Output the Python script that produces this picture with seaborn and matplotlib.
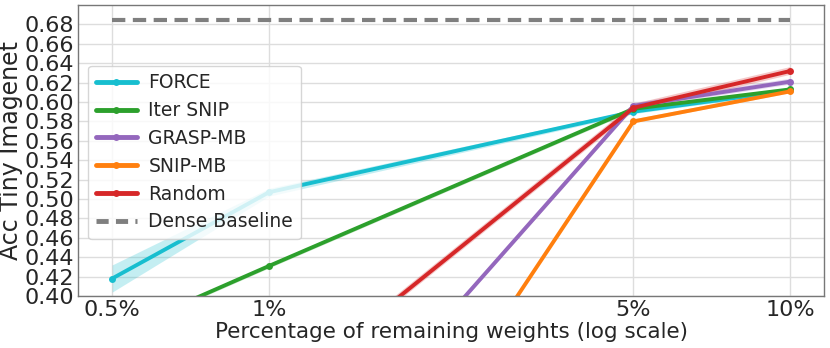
import numpy as np
import pandas as pd
import matplotlib
matplotlib.use("Agg")
import matplotlib.pyplot as plt
import seaborn as sns
from matplotlib.ticker import NullFormatter, FixedLocator, LogLocator
from matplotlib.lines import Line2D

# ---- data ----
x_pct = [0.5, 1, 5, 10]
x_labels = ["0.5%", "1%", "5%", "10%"]
methods = ["FORCE", "Iter SNIP", "GRASP-MB", "SNIP-MB", "Random"]
force = [0.418, 0.507, 0.590, 0.612]
iter_snip = [0.360, 0.431, 0.593, 0.613]
grasp_mb = [0.10, 0.171, 0.596, 0.621]
snip_mb = [0.01, 0.015, 0.580, 0.611]
random_ = [0.20, 0.291, 0.594, 0.632]
force_sd = [0.014, 0.004, 0.002, 0.002]
iter_snip_sd = [0.002, 0.002, 0.002, 0.002]
grasp_mb_sd = [0.003, 0.003, 0.003, 0.003]
snip_mb_sd = [0.002, 0.002, 0.002, 0.002]
random_sd = [0.004, 0.004, 0.004, 0.004]
dense_baseline = 0.685
y_ticks = [round(0.40 + 0.02 * i, 2) for i in range(15)]

colors = {"FORCE": "#17becf", "Iter SNIP": "#2ca02c", "GRASP-MB": "#9467bd",
          "SNIP-MB": "#ff7f0e", "Random": "#d62728"}
means = dict(zip(methods, [force, iter_snip, grasp_mb, snip_mb, random_]))
sds = dict(zip(methods, [force_sd, iter_snip_sd, grasp_mb_sd, snip_mb_sd, random_sd]))

rows = []
for m in methods:
    for xv, yv in zip(x_pct, means[m]):
        rows.append({"x": xv, "acc": yv, "method": m})
df = pd.DataFrame(rows)

sns.set_style("whitegrid")
plt.rcParams["font.family"] = ["DejaVu Sans"]

fig = plt.figure(figsize=(8.3, 3.48), dpi=100)
ax = fig.add_axes([78 / 830, 1 - 296 / 348, (824 - 78) / 830, (296 - 5) / 348])

sns.lineplot(data=df, x="x", y="acc", hue="method", hue_order=methods,
             palette=colors, marker="o", markersize=5, markeredgewidth=0,
             linewidth=2.8, errorbar=None, ax=ax, legend=False)
for m in methods:
    mu = np.array(means[m]); sd = np.array(sds[m])
    ax.fill_between(x_pct, mu - sd, mu + sd, color=colors[m], alpha=0.25, linewidth=0)

dash = (0, (3.2, 1.8))
ax.plot([x_pct[0], x_pct[-1]], [dense_baseline, dense_baseline], color="#7f7f7f",
        linestyle=dash, linewidth=3)

ax.set_xscale("log")
ax.set_xlim(0.43, 11.6)
ax.set_ylim(0.40, 0.70)
ax.xaxis.set_major_locator(FixedLocator(x_pct))
ax.set_xticklabels(x_labels)
ax.xaxis.set_minor_locator(LogLocator(base=10, subs=np.arange(2, 10) * 0.1, numticks=20))
ax.xaxis.set_minor_formatter(NullFormatter())
ax.set_yticks(y_ticks)
ax.set_yticklabels([f"{v:.2f}" for v in y_ticks])
ax.tick_params(axis="both", which="major", labelsize=16, length=0, pad=3)
ax.tick_params(axis="x", which="minor", length=3, direction="in", color="#777777")
ax.grid(True, which="major", color="#dddddd", linewidth=1)
ax.grid(False, which="minor")
for s in ax.spines.values():
    s.set_color("#777777")
    s.set_linewidth(1)

ax.set_xlabel("Percentage of remaining weights (log scale)", fontsize=15.5, labelpad=1)
ax.set_ylabel("Acc Tiny Imagenet", fontsize=17, labelpad=1)

handles = [Line2D([0], [0], color=colors[m], lw=3.5, marker="o", markersize=5,
                  markeredgewidth=0) for m in methods]
handles.append(Line2D([0], [0], color="#7f7f7f", lw=3.5, linestyle=(0, (2.5, 1.5))))
ax.legend(handles, methods + ["Dense Baseline"], fontsize=13.5, loc="upper left",
          bbox_to_anchor=(0.0134, 0.792), borderaxespad=0, frameon=True, framealpha=0.8,
          handlelength=2.2, labelspacing=0.47, borderpad=0.42, handletextpad=0.6)

fig.savefig("out.png", dpi=100)
